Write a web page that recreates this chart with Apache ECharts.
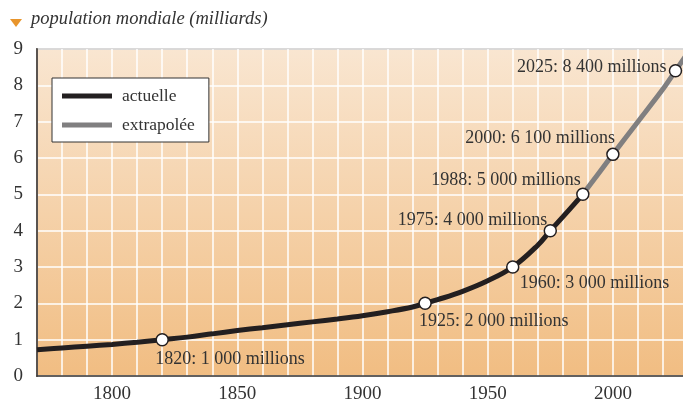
<!DOCTYPE html>
<html>
<head>
<meta charset="utf-8">
<script src="https://cdn.jsdelivr.net/npm/echarts@6/dist/echarts.min.js"></script>
<style>
  html, body { margin: 0; padding: 0; background: #fff; }
  #chart { width: 683px; height: 405px; }
</style>
</head>
<body>
<div id="chart"></div>
<script>
// population mondiale, en milliards
const actualYears = [1770, 1780, 1790, 1800, 1810, 1820, 1830, 1840, 1850, 1860, 1870, 1880, 1890, 1900, 1910, 1920, 1925, 1930, 1940, 1950, 1960, 1970, 1975, 1980, 1988]
const actualValues = [0.72, 0.77, 0.82, 0.87, 0.93, 1.0, 1.07, 1.16, 1.25, 1.33, 1.41, 1.49, 1.57, 1.66, 1.77, 1.9, 2.0, 2.1, 2.33, 2.62, 3.0, 3.6, 4.0, 4.38, 5.0]
const extraYears = [1988, 2000, 2010, 2020, 2025, 2030]
const extraValues = [5.0, 6.1, 7.0, 7.9, 8.4, 8.9]
const markYears = [1820, 1925, 1960, 1975, 1988, 2000, 2025]
const markValues = [1.0, 2.0, 3.0, 4.0, 5.0, 6.1, 8.4]
const markTexts = ['1820: 1 000 millions', '1925: 2 000 millions', '1960: 3 000 millions', '1975: 4 000 millions', '1988: 5 000 millions', '2000: 6 100 millions', '2025: 8 400 millions']
const seriesNames = ['actuelle', 'extrapolée']

// placement of each mark label (align, dx, dy)
const labelPlace = [
  ['left', -7, 20], ['left', -6, 18], ['left', 7, 16],
  ['right', -3, -10], ['right', -2, -14], ['right', 2, -16], ['right', -9, -4]
]

const serif = '"Liberation Serif", "DejaVu Serif", serif'
const chart = echarts.init(document.getElementById('chart'))

const zip = (xs, ys) => xs.map((x, i) => [x, ys[i]])

const option = {
  animation: false,
  textStyle: { fontFamily: serif },
  graphic: [
    {
      type: 'polygon',
      shape: { points: [[10, 19], [22, 19], [16, 27]] },
      style: { fill: '#e8952c' }
    },
    {
      type: 'text',
      left: 31,
      top: 10,
      style: {
        text: 'population mondiale (milliards)',
        font: 'italic 18.5px ' + serif,
        fill: '#333'
      }
    }
  ],
  grid: {
    left: 37,
    width: 651,
    top: 49,
    height: 327,
    outerBoundsMode: 'none',
    show: true,
    borderColor: '#3d3a38',
    borderWidth: 1.5,
    backgroundColor: new echarts.graphic.LinearGradient(0, 0, 0, 1, [
      { offset: 0, color: '#f9e6d1' },
      { offset: 1, color: '#f1bd82' }
    ])
  },
  legend: {
    data: seriesNames,
    orient: 'vertical',
    left: 52,
    top: 78,
    icon: 'rect',
    itemWidth: 50,
    itemHeight: 5,
    itemGap: 11,
    padding: [9, 14, 8, 10],
    backgroundColor: '#fff',
    borderColor: '#333',
    borderWidth: 1,
    borderRadius: 0,
    textStyle: { fontFamily: serif, fontSize: 17.5, color: '#333', padding: [0, 0, 0, 5] }
  },
  xAxis: {
    type: 'value',
    min: 1770,
    max: 2030,
    interval: 10,
    axisLine: { show: true, lineStyle: { color: '#3d3a38', width: 1.5 } },
    axisTick: { show: false },
    axisLabel: {
      fontFamily: serif,
      fontSize: 19,
      color: '#333',
      margin: 9,
      formatter: v => (v % 50 === 0 && v < 2030 ? String(v) : '')
    },
    splitLine: { show: true, lineStyle: { color: '#ffffff', width: 1.5 } }
  },
  yAxis: {
    type: 'value',
    min: 0,
    max: 9,
    interval: 1,
    axisLine: { show: true, lineStyle: { color: '#5a5450', width: 2 } },
    axisTick: { show: false },
    axisLabel: { fontFamily: serif, fontSize: 19, color: '#333', margin: 14 },
    splitLine: { show: true, lineStyle: { color: '#ffffff', width: 1.5 } }
  },
  series: [
    {
      name: seriesNames[0],
      type: 'line',
      data: zip(actualYears, actualValues),
      smooth: 0.4,
      showSymbol: false,
      color: '#231f20',
      lineStyle: { color: '#231f20', width: 5 },
      z: 3
    },
    {
      name: seriesNames[1],
      type: 'line',
      data: zip(extraYears, extraValues),
      smooth: 0.3,
      showSymbol: false,
      color: '#807f80',
      lineStyle: { color: '#807f80', width: 5 },
      z: 2
    },
    {
      name: 'repères',
      type: 'scatter',
      symbol: 'circle',
      symbolSize: 12,
      itemStyle: { color: '#fff', borderColor: '#231f20', borderWidth: 1.5, opacity: 1 },
      z: 5,
      data: markYears.map((y, i) => ({
        value: [y, markValues[i]],
        label: {
          show: true,
          position: 'inside',
          formatter: markTexts[i],
          align: labelPlace[i][0],
          verticalAlign: 'middle',
          offset: [labelPlace[i][1], labelPlace[i][2]],
          fontFamily: serif,
          fontSize: 18,
          color: '#333'
        }
      }))
    }
  ]
}

chart.setOption(option)
</script>
</body>
</html>
